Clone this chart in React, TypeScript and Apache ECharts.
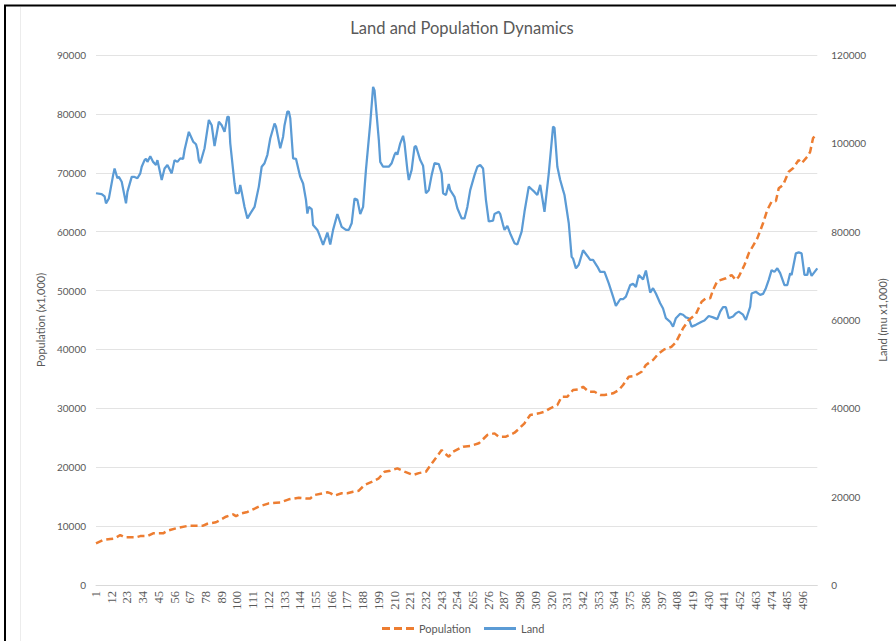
import React, { useEffect, useRef } from "react";
import * as echarts from "echarts";

// Category labels 1..506
const categoryCount = 506;
const categories: string[] = Array.from({ length: categoryCount }, (_, i) => String(i + 1));

// Population (x1,000): [category index, value]
const populationPoints: [number, number][] = [
  [0, 7080], [5, 7640], [10, 7810], [13, 7900], [17, 8490], [20, 8100], [24, 8100], [28, 8100],
  [31, 8300], [36, 8320], [40, 8780], [47, 8780], [50, 9200], [56, 9630], [65, 10070], [75, 10070],
  [78, 10400], [84, 10650], [91, 11600], [96, 12000], [98, 11700], [102, 12170], [106, 12400],
  [109, 12730], [114, 13300], [121, 13870], [126, 13980], [129, 14000], [135, 14550], [142, 14820],
  [147, 14700], [150, 14700], [153, 15280], [162, 15740], [164, 15600], [167, 15170], [172, 15570],
  [176, 15570], [180, 15840], [184, 16010], [188, 16980], [193, 17500], [198, 18120], [202, 19240],
  [206, 19400], [211, 19810], [216, 19240], [222, 18680], [226, 19000], [231, 19240], [236, 20940],
  [242, 22920], [244, 22400], [247, 21790], [250, 22640], [257, 23490], [262, 23600], [268, 24060],
  [274, 25470], [279, 25750], [282, 25180], [287, 25180], [293, 25860], [296, 26500], [300, 27460],
  [304, 28870], [310, 29150], [314, 29430], [318, 30000], [323, 30560], [326, 31970], [330, 31970],
  [334, 33110], [338, 33230], [341, 33670], [345, 32820], [349, 32820], [353, 32260], [356, 32260],
  [362, 32550], [366, 33110], [369, 33960], [373, 35370], [377, 35490], [382, 36220], [385, 37360],
  [390, 38210], [394, 39340], [398, 40020], [403, 40460], [406, 41200], [411, 43590], [415, 45000],
  [420, 46000], [424, 48100], [427, 48680], [430, 48680], [432, 50090], [435, 51600], [441, 52080],
  [445, 52640], [448, 51790], [450, 52350], [454, 54340], [457, 56320], [461, 58020], [463, 58870],
  [467, 61420], [470, 63680], [473, 65090], [476, 65200], [478, 67360], [481, 67920], [485, 70180],
  [488, 70760], [492, 72170], [494, 71610], [498, 72730], [500, 73570], [502, 75850], [504, 76500],
];

// Land (mu x1,000): [category index, value]
const landPoints: [number, number][] = [
  [0, 88700], [4, 88500], [6, 88000], [7, 86400], [9, 87500], [12, 92800], [13, 94300], [15, 92100],
  [16, 92400], [18, 91300], [21, 86400], [22, 89000], [25, 92400], [27, 92400], [29, 92100],
  [31, 93200], [32, 94700], [34, 96200], [35, 96500], [36, 95800], [38, 97100], [40, 95800],
  [42, 95100], [43, 96200], [46, 91700], [48, 94300], [50, 95100], [53, 93200], [55, 96200],
  [57, 95800], [59, 96600], [61, 96500], [62, 98500], [65, 102600], [68, 100400], [70, 99800],
  [71, 98600], [72, 96200], [73, 95500], [76, 98900], [79, 105300], [81, 104100], [83, 99400],
  [86, 104900], [88, 104100], [90, 102600], [92, 106000], [93, 106000], [94, 100000], [97, 90900],
  [98, 88700], [100, 88700], [101, 90600], [102, 89000], [104, 85600], [106, 83000], [108, 84100],
  [111, 85600], [114, 90200], [116, 94700], [118, 95500], [120, 97400], [122, 101100], [125, 104500],
  [126, 103800], [129, 98900], [131, 101500], [132, 104100], [134, 107200], [135, 107200],
  [136, 105700], [138, 96600], [140, 96500], [143, 92400], [145, 90900], [147, 87200], [148, 84100],
  [149, 85600], [151, 85100], [152, 81500], [155, 80400], [156, 79600], [159, 77000], [162, 79800],
  [164, 77100], [166, 80400], [169, 84000], [172, 81100], [175, 80400], [177, 80400], [179, 81900],
  [181, 87500], [183, 87200], [185, 84000], [187, 85600], [189, 94000], [192, 104500], [194, 112800],
  [195, 112000], [198, 100800], [199, 95800], [201, 94700], [205, 94700], [207, 95500], [209, 97400],
  [210, 98000], [211, 97400], [213, 100000], [215, 101700], [216, 100000], [218, 94000], [219, 91700],
  [221, 94000], [223, 99200], [224, 99400], [227, 96200], [229, 94900], [231, 88700], [233, 89400],
  [235, 92800], [237, 95500], [240, 95300], [242, 93200], [243, 88700], [245, 88300], [247, 90800],
  [248, 89400], [251, 87900], [253, 85300], [256, 83000], [258, 83000], [260, 85600], [262, 89400],
  [265, 92800], [267, 94700], [269, 95100], [271, 94300], [273, 87200], [275, 82300], [278, 82500],
  [279, 84000], [282, 84500], [283, 84000], [285, 81500], [286, 80400], [288, 81300], [290, 79600],
  [293, 77400], [295, 77100], [298, 80000], [300, 84500], [303, 90200], [305, 89600], [307, 89000],
  [309, 88300], [311, 90600], [314, 84500], [317, 93200], [320, 103800], [321, 103500], [323, 94700],
  [325, 91700], [327, 89400], [328, 88300], [331, 81900], [333, 74300], [334, 73900], [336, 71700],
  [338, 72500], [341, 75800], [344, 74500], [346, 73600], [348, 73600], [351, 72100], [353, 70900],
  [356, 70900], [359, 68300], [362, 65300], [364, 63200], [367, 64700], [369, 64700], [371, 65300],
  [374, 67900], [376, 68200], [378, 67500], [380, 70200], [383, 69200], [385, 71200], [388, 66200],
  [390, 67200], [392, 66000], [395, 63800], [397, 62600], [399, 60400], [402, 59600], [404, 58500],
  [406, 60400], [409, 61400], [411, 61200], [413, 60600], [415, 60400], [417, 58500], [420, 58900],
  [424, 59600], [426, 59900], [429, 60900], [432, 60600], [435, 60200], [437, 61900], [439, 62900],
  [441, 62900], [443, 60400], [446, 60800], [448, 61500], [450, 61900], [453, 61200], [455, 60000],
  [458, 63000], [459, 66000], [462, 66400], [465, 65700], [467, 65900], [469, 67200], [471, 69100],
  [473, 71300], [475, 70900], [477, 71700], [479, 70600], [482, 67900], [484, 67900], [486, 70600],
  [487, 70200], [490, 75100], [492, 75300], [494, 75100], [496, 70200], [498, 70200], [499, 71900],
  [501, 70000], [505, 71700],
];

const leftTicks = { min: 0, max: 90000, interval: 10000 };
const rightTicks = { min: 0, max: 120000, interval: 20000 };

const TEXT = "#595959";
const SANS = "Lato, 'Open Sans', sans-serif";
const plain = (v: number) => String(v);

export default function App() {
  const ref = useRef<HTMLDivElement>(null);
  useEffect(() => {
    if (!ref.current) return;
    const chart = echarts.init(ref.current, undefined, { renderer: "svg" });
    chart.setOption({
      animation: false,
      backgroundColor: "#ffffff",
      title: {
        text: "Land and Population Dynamics",
        left: 457,
        textAlign: "center",
        top: 14,
        textStyle: { fontFamily: SANS, fontSize: 16.5, fontWeight: "normal", color: TEXT },
      },
      grid: { left: 96, right: 74, top: 55, bottom: 56, containLabel: false },
      legend: {
        bottom: 2,
        left: 377,
        itemWidth: 32,
        itemHeight: 3,
        itemGap: 13,
        textStyle: { fontFamily: SANS, fontSize: 11, color: TEXT },
        data: [
          { name: "Population", icon: "path://M0,0h8v3h-8z M12,0h8v3h-8z M24,0h8v3h-8z" },
          { name: "Land", icon: "rect" },
        ],
      },
      xAxis: {
        type: "category",
        data: categories,
        boundaryGap: false,
        axisLine: { lineStyle: { color: "#d9d9d9", width: 1 } },
        axisTick: { show: false },
        axisLabel: {
          interval: 10,
          rotate: 90,
          margin: 6,
          fontFamily: "'Liberation Serif', 'DejaVu Serif', serif",
          fontSize: 12.5,
          color: TEXT,
        },
        splitLine: { show: false },
      },
      yAxis: [
        {
          type: "value",
          min: leftTicks.min,
          max: leftTicks.max,
          interval: leftTicks.interval,
          name: "Population (x1,000)",
          nameLocation: "middle",
          nameRotate: 90,
          nameGap: 37,
          nameTextStyle: { fontFamily: SANS, fontSize: 11, color: TEXT },
          axisLine: { show: false },
          axisTick: { show: false },
          axisLabel: { fontFamily: SANS, fontSize: 10, color: TEXT, margin: 10, formatter: plain },
          splitLine: { lineStyle: { color: "#e3e3e3", width: 1 } },
        },
        {
          type: "value",
          position: "right",
          min: rightTicks.min,
          max: rightTicks.max,
          interval: rightTicks.interval,
          name: "Land (mu x1,000)",
          nameLocation: "middle",
          nameRotate: 90,
          nameGap: 50,
          nameTextStyle: { fontFamily: SANS, fontSize: 11, color: TEXT },
          axisLine: { show: false },
          axisTick: { show: false },
          axisLabel: { fontFamily: SANS, fontSize: 10, color: TEXT, margin: 14, formatter: plain },
          splitLine: { show: false },
        },
      ],
      series: [
        {
          name: "Population",
          type: "line",
          yAxisIndex: 0,
          data: populationPoints,
          showSymbol: false,
          symbol: "none",
          smooth: false,
          color: "#ED7D31",
          lineStyle: { color: "#ED7D31", width: 2.5, type: [7, 4] },
          z: 3,
        },
        {
          name: "Land",
          type: "line",
          yAxisIndex: 1,
          data: landPoints,
          showSymbol: false,
          symbol: "none",
          smooth: false,
          color: "#5B9BD5",
          lineStyle: { color: "#5B9BD5", width: 2.25 },
          z: 2,
        },
      ],
      graphic: [
        { type: "line", shape: { x1: 4, y1: 5.5, x2: 896, y2: 5.5 }, style: { stroke: "#000", lineWidth: 2 } },
        { type: "line", shape: { x1: 5, y1: 5, x2: 5, y2: 641 }, style: { stroke: "#000", lineWidth: 2 } },
        { type: "line", shape: { x1: 20.5, y1: 7, x2: 20.5, y2: 641 }, style: { stroke: "#ececec", lineWidth: 1 } },
      ],
    });
    return () => chart.dispose();
  }, []);
  return (
    <div
      ref={ref}
      style={{ position: "fixed", left: 0, top: 0, width: 896, height: 641 }}
    />
  );
}
